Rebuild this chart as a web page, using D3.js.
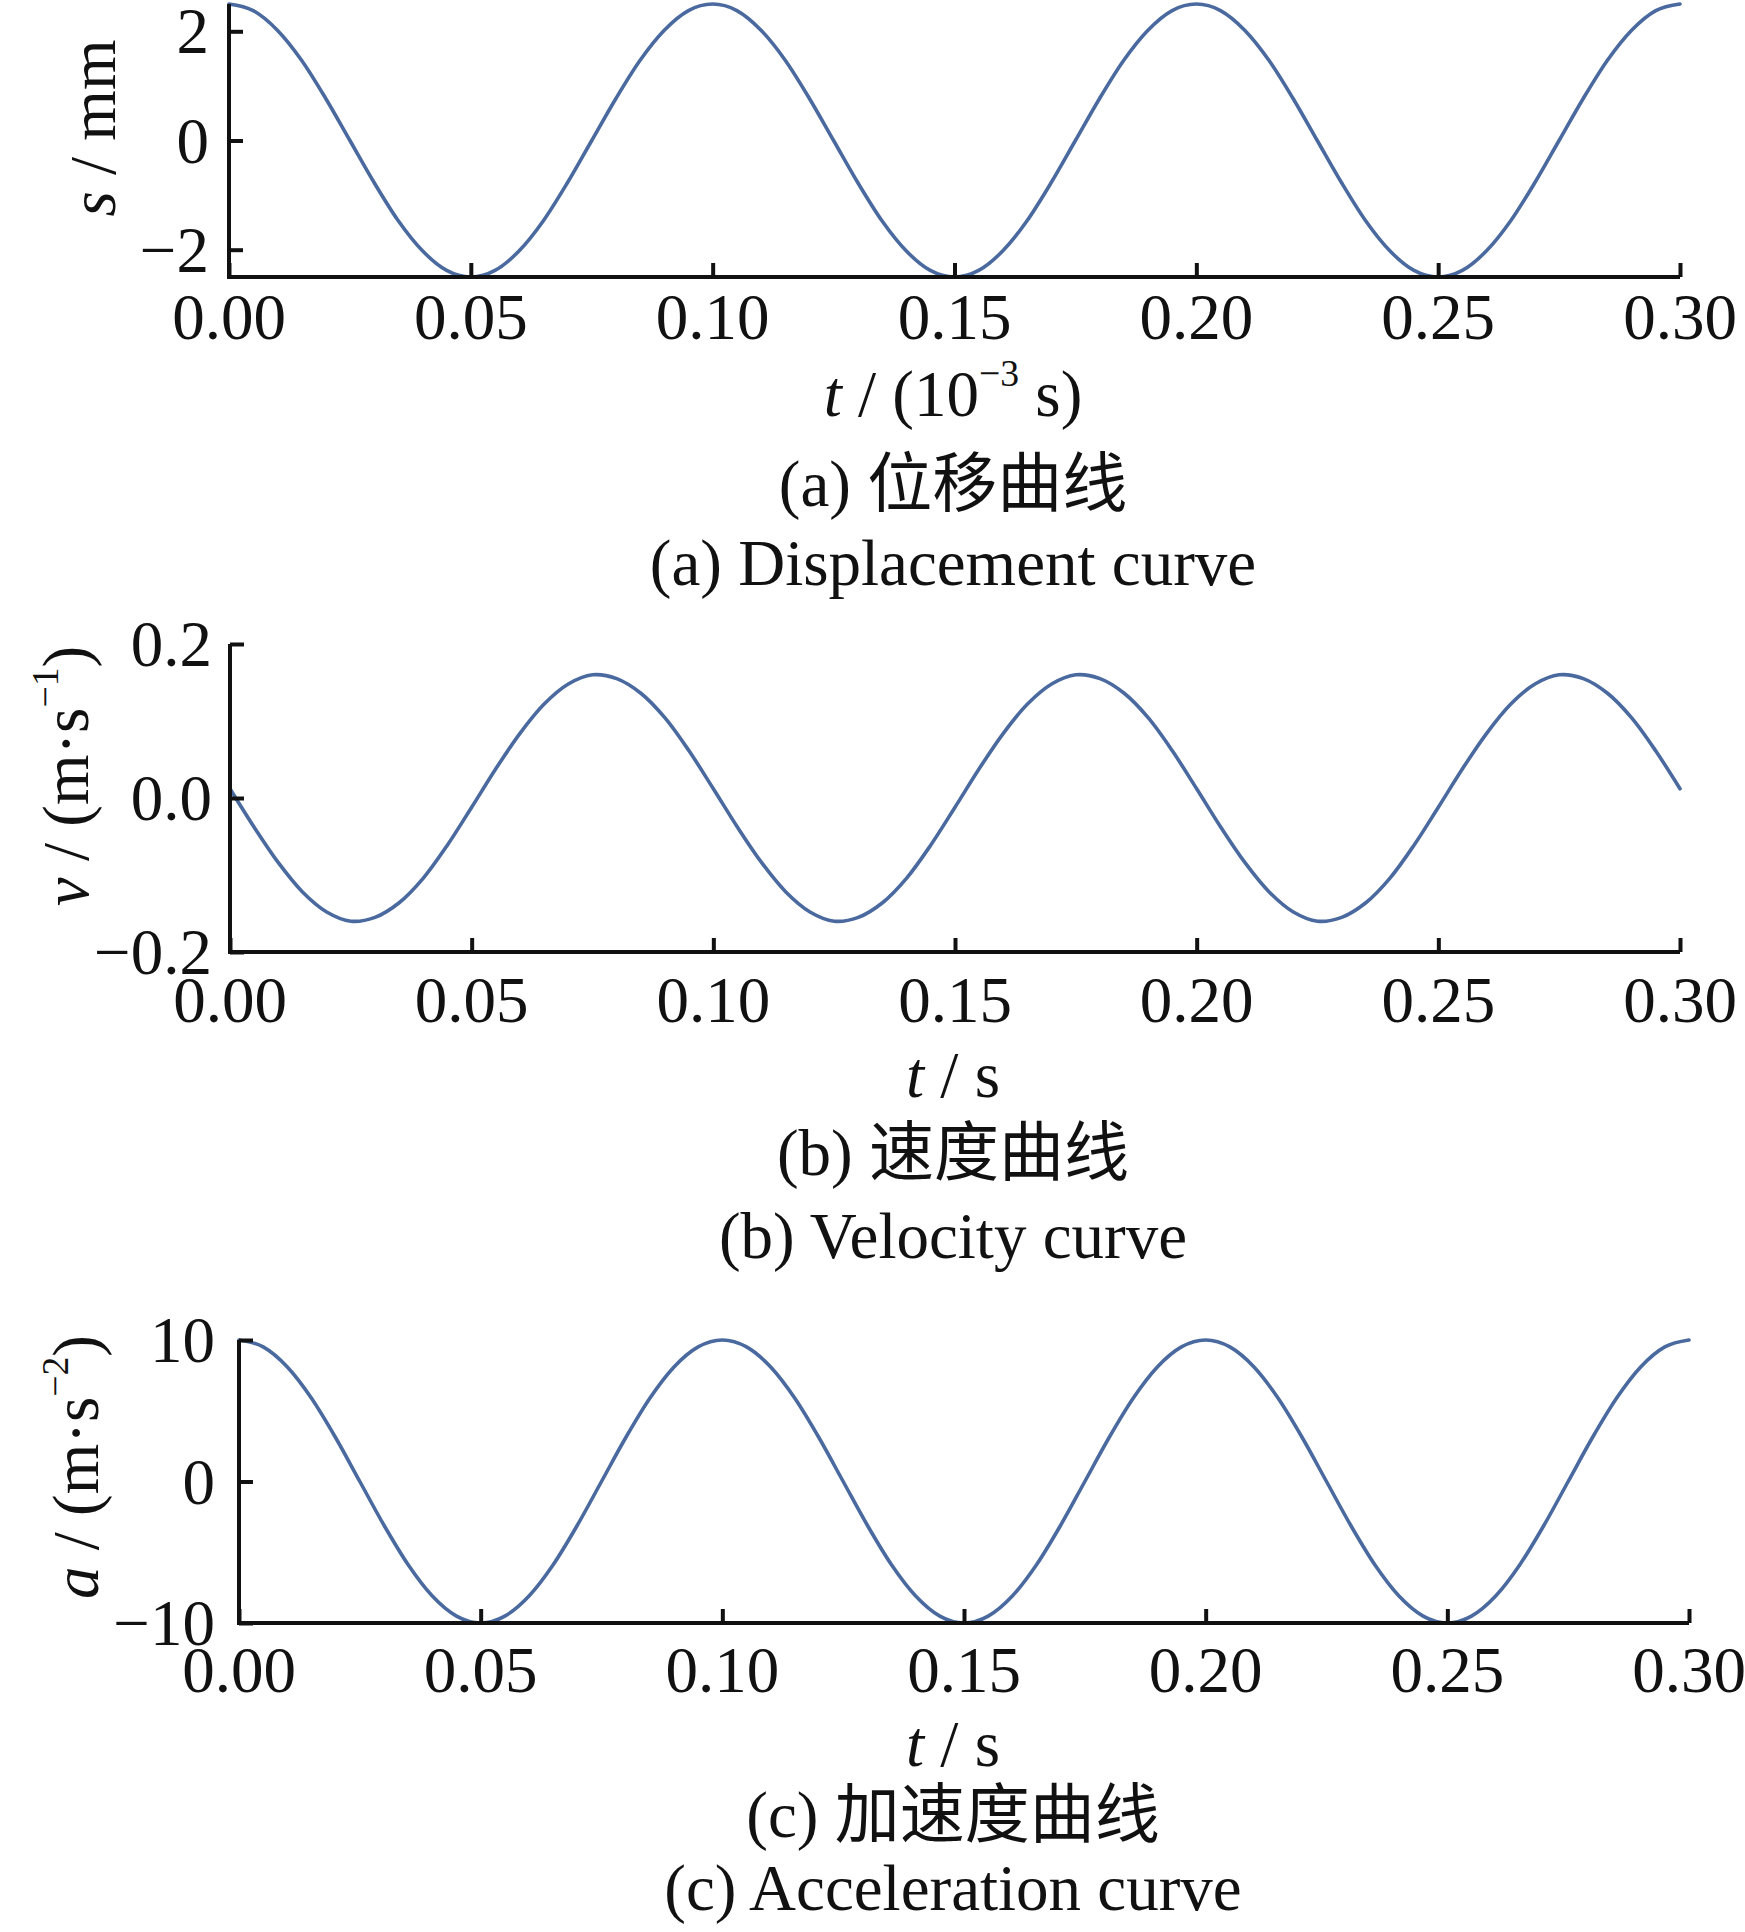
<!DOCTYPE html>
<html>
<head>
<meta charset="utf-8">
<script src="https://cdn.jsdelivr.net/npm/d3@7"></script>
<style>
  html, body { margin: 0; padding: 0; background: #fff; }
  svg { display: block; }
  text { font-family: "Liberation Serif", "Times New Roman", "Noto Sans CJK SC", serif; fill: #111; }
  .cn { font-family: "Liberation Serif", "Noto Sans CJK SC", serif; }
</style>
</head>
<body>
<svg id="chart" width="1745" height="1932"></svg>
<script>
// ---------------- DATA ----------------
const timeValues = [
  0.000,0.005,0.010,0.015,0.020,0.025,0.030,0.035,0.040,0.045,
  0.050,0.055,0.060,0.065,0.070,0.075,0.080,0.085,0.090,0.095,
  0.100,0.105,0.110,0.115,0.120,0.125,0.130,0.135,0.140,0.145,
  0.150,0.155,0.160,0.165,0.170,0.175,0.180,0.185,0.190,0.195,
  0.200,0.205,0.210,0.215,0.220,0.225,0.230,0.235,0.240,0.245,
  0.250,0.255,0.260,0.265,0.270,0.275,0.280,0.285,0.290,0.295,
  0.300
];
const displacement = [
  2.50,2.38,2.02,1.47,0.77,0.00,-0.77,-1.47,-2.02,-2.38,
  -2.50,-2.38,-2.02,-1.47,-0.77,0.00,0.77,1.47,2.02,2.38,
  2.50,2.38,2.02,1.47,0.77,0.00,-0.77,-1.47,-2.02,-2.38,
  -2.50,-2.38,-2.02,-1.47,-0.77,0.00,0.77,1.47,2.02,2.38,
  2.50,2.38,2.02,1.47,0.77,0.00,-0.77,-1.47,-2.02,-2.38,
  -2.50,-2.38,-2.02,-1.47,-0.77,0.00,0.77,1.47,2.02,2.38,
  2.50
];
const velocity = [
  0.012,-0.038,-0.084,-0.122,-0.148,-0.160,-0.155,-0.136,-0.104,-0.061,
  -0.012,0.038,0.084,0.122,0.148,0.160,0.155,0.136,0.104,0.061,
  0.012,-0.038,-0.084,-0.122,-0.148,-0.160,-0.155,-0.136,-0.104,-0.061,
  -0.012,0.038,0.084,0.122,0.148,0.160,0.155,0.136,0.104,0.061,
  0.012,-0.038,-0.084,-0.122,-0.148,-0.160,-0.155,-0.136,-0.104,-0.061,
  -0.012,0.038,0.084,0.122,0.148,0.160,0.155,0.136,0.104,0.061,
  0.012
];
const acceleration = [
  10.00,9.51,8.09,5.88,3.09,0.00,-3.09,-5.88,-8.09,-9.51,
  -10.00,-9.51,-8.09,-5.88,-3.09,0.00,3.09,5.88,8.09,9.51,
  10.00,9.51,8.09,5.88,3.09,0.00,-3.09,-5.88,-8.09,-9.51,
  -10.00,-9.51,-8.09,-5.88,-3.09,0.00,3.09,5.88,8.09,9.51,
  10.00,9.51,8.09,5.88,3.09,0.00,-3.09,-5.88,-8.09,-9.51,
  -10.00,-9.51,-8.09,-5.88,-3.09,0.00,3.09,5.88,8.09,9.51,
  10.00
];
const xTicks = [0, 0.05, 0.10, 0.15, 0.20, 0.25, 0.30];
const xTickLabels = ["0.00","0.05","0.10","0.15","0.20","0.25","0.30"];
const sTicks = [-2, 0, 2];
const sTickLabels = ["\u22122","0","2"];
const vTicks = [-0.2, 0, 0.2];
const vTickLabels = ["\u22120.2","0.0","0.2"];
const aTicks = [-10, 0, 10];
const aTickLabels = ["\u221210","0","10"];
const captionsCN = ["(a) 位移曲线", "(b) 速度曲线", "(c) 加速度曲线"];
const captionsEN = ["(a) Displacement curve", "(b) Velocity curve", "(c) Acceleration curve"];

// ---------------- DRAWING ----------------
const svg = d3.select("#chart");
svg.append("rect").attr("width",1745).attr("height",1932).attr("fill","#fff");
const lineColor = "#4a6a9f";
const FS = 65;

const panels = [
  { values: displacement, curve: d3.curveMonotoneX, yDomain: [-2.5, 2.5], yTicks: sTicks, yLabels: sTickLabels,
    x0: 229, x1: 1680, yTop: 4, yBot: 277, tickLabelY: 317, yTickRight: 209,
    yLab: { x: 93, y: 128, parts: [["s","italic"],[" / mm",""]] },
    xLab: { y: 394, parts: [["t","italic"],[" / (10",""],["\u22123","sup"],[" s)",""]] },
    cnY: 484, enY: 563 },
  { values: velocity, curve: d3.curveCatmullRom.alpha(0.5), yDomain: [-0.2, 0.2], yTicks: vTicks, yLabels: vTickLabels,
    x0: 230, x1: 1680, yTop: 644, yBot: 952, tickLabelY: 1000, yTickRight: 212,
    yLab: { x: 66, y: 776, parts: [["v","italic"],[" / (m\u00b7s",""],["\u22121","sup"],[")",""]] },
    xLab: { y: 1075, parts: [["t","italic"],[" / s",""]] },
    cnY: 1153, enY: 1236 },
  { values: acceleration, curve: d3.curveMonotoneX, yDomain: [-10, 10], yTicks: aTicks, yLabels: aTickLabels,
    x0: 239, x1: 1689, yTop: 1340, yBot: 1623, tickLabelY: 1670, yTickRight: 215,
    yLab: { x: 76, y: 1467, parts: [["a","italic"],[" / (m\u00b7s",""],["\u22122","sup"],[")",""]] },
    xLab: { y: 1744, parts: [["t","italic"],[" / s",""]] },
    cnY: 1815, enY: 1888 }
];

function addParts(textSel, parts) {
  parts.forEach(([str, kind]) => {
    const ts = textSel.append("tspan").text(str);
    if (kind === "italic") ts.attr("font-style","italic");
    if (kind === "sup") ts.attr("font-size", FS*0.58).attr("baseline-shift", "55%");
  });
}

const centerX = 953;

panels.forEach((p, i) => {
  const x = d3.scaleLinear().domain([0, 0.30]).range([p.x0, p.x1]);
  const y = d3.scaleLinear().domain(p.yDomain).range([p.yBot, p.yTop]);
  const g = svg.append("g");

  // curve
  const line = d3.line()
    .x((d, k) => x(timeValues[k]))
    .y(d => y(d))
    .curve(p.curve);
  g.append("path").datum(p.values)
    .attr("d", line).attr("fill","none")
    .attr("stroke", lineColor).attr("stroke-width", 3.6)
    .attr("stroke-linejoin","round").attr("stroke-linecap","round");

  // x axis (ticks inward)
  const xAxis = d3.axisBottom(x).tickValues(xTicks).tickSize(-14).tickFormat("");
  const gx = g.append("g").attr("transform", `translate(0,${p.yBot})`).call(xAxis);
  gx.select(".domain").attr("d", `M${p.x0},0H${p.x1}`).attr("stroke","#111").attr("stroke-width",4);
  gx.selectAll(".tick line").attr("stroke","#111").attr("stroke-width",4);

  // y axis (ticks inward)
  const yAxis = d3.axisLeft(y).tickValues(p.yTicks).tickSize(-14).tickFormat("");
  const gy = g.append("g").attr("transform", `translate(${p.x0},0)`).call(yAxis);
  gy.select(".domain").attr("d", `M0,${p.yTop}V${p.yBot + 2}`).attr("stroke","#111").attr("stroke-width",4);
  gy.selectAll(".tick line").attr("stroke","#111").attr("stroke-width",4);

  // x tick labels
  g.selectAll(".xtl").data(xTicks).enter().append("text")
    .attr("x", d => x(d)).attr("y", p.tickLabelY)
    .attr("text-anchor","middle").attr("dominant-baseline","central")
    .attr("font-size", FS).text((d, k) => xTickLabels[k]);

  // y tick labels
  g.selectAll(".ytl").data(p.yTicks).enter().append("text")
    .attr("x", p.yTickRight).attr("y", d => y(d))
    .attr("text-anchor","end").attr("dominant-baseline","central")
    .attr("font-size", FS).text((d, k) => p.yLabels[k]);

  // y axis title
  const yt = g.append("text")
    .attr("transform", `translate(${p.yLab.x},${p.yLab.y}) rotate(-90)`)
    .attr("text-anchor","middle").attr("dominant-baseline","central")
    .attr("font-size", FS);
  addParts(yt, p.yLab.parts);

  // x axis title
  const xt = g.append("text")
    .attr("x", centerX).attr("y", p.xLab.y)
    .attr("text-anchor","middle").attr("dominant-baseline","central")
    .attr("font-size", FS);
  addParts(xt, p.xLab.parts);

  // captions
  g.append("text").attr("class","cn").attr("x", centerX).attr("y", p.cnY)
    .attr("text-anchor","middle").attr("dominant-baseline","central")
    .attr("font-size", FS).text(captionsCN[i]);
  g.append("text").attr("x", centerX).attr("y", p.enY)
    .attr("text-anchor","middle").attr("dominant-baseline","central")
    .attr("font-size", FS).text(captionsEN[i]);
});
</script>
</body>
</html>
